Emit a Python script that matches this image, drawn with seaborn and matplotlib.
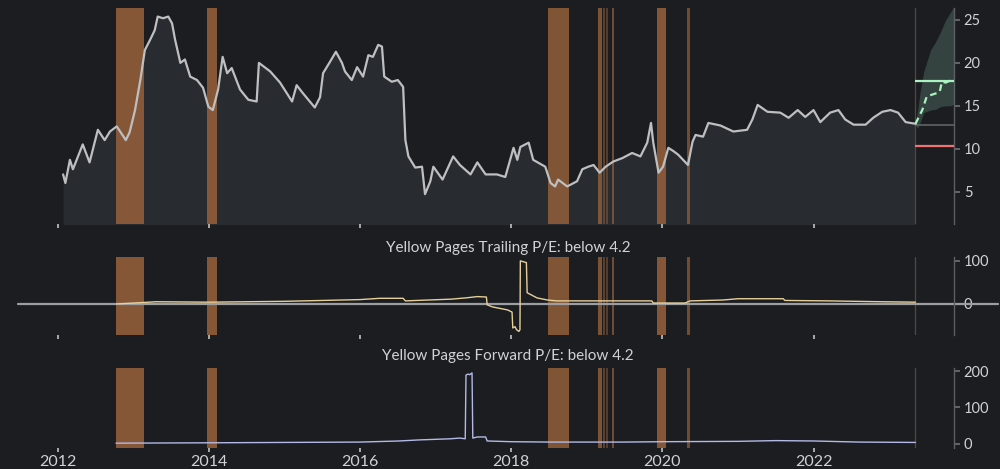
import matplotlib
matplotlib.use("Agg")
import matplotlib.pyplot as plt
import matplotlib.dates as mdates
import pandas as pd
import seaborn as sns

# price history (decimal year, value)
price_t = [2012.07, 2012.10, 2012.16, 2012.20, 2012.33, 2012.42, 2012.53, 2012.62, 2012.69, 2012.78,
           2012.90, 2012.95, 2013.02, 2013.09, 2013.15, 2013.22, 2013.28, 2013.32, 2013.39, 2013.46,
           2013.51, 2013.55, 2013.62, 2013.68, 2013.75, 2013.84, 2013.92, 2013.99, 2014.05, 2014.12,
           2014.18, 2014.24, 2014.30, 2014.41, 2014.52, 2014.63, 2014.66, 2014.81, 2014.94, 2015.10,
           2015.16, 2015.24, 2015.40, 2015.47, 2015.51, 2015.60, 2015.68, 2015.76, 2015.80, 2015.89,
           2015.96, 2016.04, 2016.11, 2016.17, 2016.24, 2016.29, 2016.32, 2016.42, 2016.50, 2016.57,
           2016.60, 2016.64, 2016.73, 2016.82, 2016.86, 2016.93, 2016.97, 2017.09, 2017.23, 2017.32,
           2017.46, 2017.55, 2017.66, 2017.81, 2017.92, 2018.03, 2018.08, 2018.12, 2018.23, 2018.29,
           2018.45, 2018.52, 2018.58, 2018.62, 2018.74, 2018.87, 2018.94, 2019.02, 2019.09, 2019.17,
           2019.25, 2019.35, 2019.47, 2019.60, 2019.71, 2019.80, 2019.85, 2019.88, 2019.95, 2020.01,
           2020.08, 2020.15, 2020.21, 2020.34, 2020.40, 2020.44, 2020.54, 2020.61, 2020.77, 2020.94,
           2021.12, 2021.19, 2021.26, 2021.39, 2021.56, 2021.67, 2021.79, 2021.89, 2022.00, 2022.09,
           2022.22, 2022.33, 2022.42, 2022.53, 2022.69, 2022.79, 2022.91, 2023.02, 2023.12, 2023.22,
           2023.35]
price_v = [7.0, 6.0, 8.7, 7.6, 10.5, 8.4, 12.2, 11.0, 12.0, 12.6,
           11.0, 11.9, 14.5, 18.0, 21.5, 22.7, 23.8, 25.4, 25.2, 25.4,
           24.6, 22.7, 20.0, 20.4, 18.4, 18.0, 17.1, 14.9, 14.5, 16.9,
           20.7, 18.8, 19.4, 16.9, 15.7, 15.5, 20.0, 19.0, 17.7, 15.5,
           17.4, 16.5, 14.8, 16.0, 18.8, 20.1, 21.3, 20.0, 19.0, 18.0,
           19.5, 18.4, 20.9, 20.7, 22.1, 21.9, 18.4, 17.8, 18.0, 17.2,
           11.0, 9.1, 7.8, 7.9, 4.7, 6.2, 7.9, 6.4, 9.1, 8.1,
           7.0, 8.4, 7.0, 7.0, 6.7, 10.1, 8.7, 10.2, 10.7, 8.7,
           7.9, 6.0, 5.6, 6.4, 5.6, 6.2, 7.6, 7.9, 8.1, 7.2,
           7.9, 8.5, 8.9, 9.5, 9.1, 10.7, 13.0, 10.7, 7.2, 7.9,
           10.1, 9.7, 9.3, 8.1, 10.8, 11.6, 11.4, 13.0, 12.7, 12.0,
           12.2, 13.4, 15.1, 14.3, 14.2, 13.6, 14.5, 13.7, 14.5, 13.1,
           14.2, 14.5, 13.4, 12.8, 12.8, 13.6, 14.3, 14.5, 14.2, 13.1,
           12.9]

# forecast cone
fc_t = [2023.35, 2023.38, 2023.41, 2023.46, 2023.55, 2023.62, 2023.68, 2023.75, 2023.82, 2023.86]
fc_upper = [13.0, 14.5, 16.5, 19.0, 21.5, 22.5, 23.6, 25.0, 26.0, 26.6]
fc_lower = [12.7, 12.4, 13.0, 14.2, 14.5, 14.6, 14.9, 15.0, 15.0, 15.2]
med_t = [2023.35, 2023.40, 2023.44, 2023.50, 2023.57, 2023.64, 2023.67, 2023.70, 2023.75, 2023.80, 2023.86]
med_v = [12.9, 13.8, 14.5, 16.1, 16.3, 16.5, 16.6, 17.8, 17.7, 17.9, 17.9]
target_high = 17.9
target_low = 10.35
last_price = 12.8

# trailing P/E
tpe_t = [2012.78, 2013.0, 2013.3, 2014.0, 2014.5, 2015.0, 2015.5, 2016.0, 2016.26, 2016.57,
         2016.60, 2016.9, 2017.2, 2017.4, 2017.55, 2017.67, 2017.68, 2017.75, 2017.95, 2018.01,
         2018.02, 2018.05, 2018.07, 2018.10, 2018.115, 2018.12, 2018.16, 2018.20, 2018.21, 2018.34,
         2018.48, 2018.6, 2019.0, 2019.5, 2019.86, 2019.88, 2020.3, 2020.37, 2020.8, 2021.0,
         2021.6, 2021.62, 2022.2, 2022.9, 2023.35]
tpe_v = [0, 2, 5, 4, 5, 6, 8, 10, 13, 13,
         7, 9, 11, 14, 17, 16, -2, -7, -14, -19,
         -56, -53, -60, -64, -60, 100, 98, 96, 26, 14,
         9, 7, 7, 7, 7, 2, 2, 7, 9, 12,
         12, 8, 7, 5, 4]

# forward P/E
fpe_t = [2012.77, 2014.0, 2015.0, 2016.0, 2016.52, 2016.79, 2017.19, 2017.32, 2017.39, 2017.40,
         2017.43, 2017.45, 2017.48, 2017.49, 2017.55, 2017.66, 2017.68, 2018.0, 2018.5, 2019.5,
         2020.0, 2021.0, 2021.5, 2022.0, 2022.6, 2023.35]
fpe_v = [2, 3, 4, 5, 8, 11, 14, 16, 14, 189,
         192, 190, 195, 16, 19, 19, 8, 6, 5, 5,
         6, 7, 9, 8, 5, 4]

# signal bands (start, end)
band_start = [2012.77, 2013.97, 2018.49, 2019.15, 2019.21, 2019.26, 2019.34, 2019.93, 2020.33]
band_end = [2013.14, 2014.11, 2018.77, 2019.20, 2019.24, 2019.28, 2019.36, 2020.05, 2020.37]
band_alpha = [0.92, 0.92, 0.88, 0.85, 0.55, 0.5, 0.75, 0.92, 0.75]

title_trailing = "Yellow Pages Trailing P/E: below 4.2"
title_forward = "Yellow Pages Forward P/E: below 4.2"


def to_date(values):
    out = []
    for y in values:
        yr = int(y)
        out.append(pd.Timestamp(year=yr, month=1, day=1) + pd.Timedelta(days=(y - yr) * 365.25))
    return out


BG = "#1b1d21"
TXT = "#d2d2d2"
sns.set_theme(style="dark")
plt.rcParams["font.family"] = ["Lato", "DejaVu Sans"]

fig = plt.figure(figsize=(10, 4.69), dpi=100, facecolor=BG)
ax1 = fig.add_axes([0.008, 0.522, 0.946, 0.461])
ax2 = fig.add_axes([0.008, 0.286, 0.946, 0.166])
ax3 = fig.add_axes([0.008, 0.045, 0.946, 0.170])

x0, x1 = to_date([2011.34, 2023.86])
last_day = to_date([2023.35])[0]

for ax in (ax1, ax2, ax3):
    ax.set_facecolor(BG)
    for s in ("top", "left", "bottom"):
        ax.spines[s].set_visible(False)
    ax.spines["right"].set_visible(True)
    ax.spines["right"].set_color("#5c5f64")
    ax.spines["right"].set_linewidth(1)
    ax.yaxis.tick_right()
    ax.tick_params(axis="y", which="both", right=True, left=False, length=4, color="#6a6d72",
                   labelcolor=TXT, labelsize=10.5, pad=3)
    ax.tick_params(axis="x", bottom=True, length=3, color="#bbbbbb", labelcolor=TXT,
                   labelsize=11.5, pad=2)
    ax.grid(False)
    ax.set_xlim(x0, x1)
    ax.xaxis.set_major_locator(mdates.YearLocator(2))
    ax.xaxis.set_major_formatter(mdates.DateFormatter("%Y"))
    for s, e, a in zip(band_start, band_end, band_alpha):
        sd, ed = to_date([s, e])
        ax.axvspan(sd, ed, color="#8f5d3a", alpha=a, lw=0, zorder=1)
    ax.axvline(last_day, color="#5a4636", lw=0.9, zorder=2)

# price panel
pdates = to_date(price_t)
ax1.fill_between(pdates, 0, price_v, color="#282b30", lw=0, zorder=0.5)
sns.lineplot(x=pdates, y=price_v, ax=ax1, color="#bdbfc1", lw=1.6, zorder=3)
fdates = to_date(fc_t)
ax1.fill_between(fdates, fc_lower, fc_upper, color="#4a6359", alpha=0.55, lw=0, zorder=2)
sns.lineplot(x=to_date(med_t), y=med_v, ax=ax1, color="#a9f2c2", lw=1.6, ls=(0, (3, 2)), zorder=4)
ax1.hlines(target_high, last_day, x1, color="#a9f2c2", lw=1.6, zorder=4)
ax1.hlines(target_low, last_day, x1, color="#f07272", lw=1.6, zorder=4)
ax1.hlines(last_price, last_day, x1, color="#5f6266", lw=1.2, zorder=2)
ax1.set_ylim(1.2, 26.4)
ax1.set_yticks([5, 10, 15, 20, 25])
ax1.tick_params(axis="x", labelbottom=False)

# trailing P/E panel
ax2.axhline(0, xmin=0.0106, xmax=1.047, color="#9c9ea1", lw=1.6, clip_on=False, zorder=2)
sns.lineplot(x=to_date(tpe_t), y=tpe_v, ax=ax2, color="#e6cf98", lw=1.0, zorder=3)
ax2.set_ylim(-72, 109)
ax2.set_yticks([0, 100])
ax2.tick_params(axis="x", labelbottom=False)

# forward P/E panel
sns.lineplot(x=to_date(fpe_t), y=fpe_v, ax=ax3, color="#b4b9e6", lw=1.0, zorder=3)
ax3.set_ylim(-11, 208)
ax3.set_yticks([0, 100, 200])

for ax in (ax1, ax2, ax3):
    ax.set_xlabel("")
    ax.set_ylabel("")

fig.text(0.508, 0.471, title_trailing, ha="center", va="center", color=TXT, fontsize=11)
fig.text(0.508, 0.241, title_forward, ha="center", va="center", color=TXT, fontsize=11)

fig.savefig("out.png", dpi=100, facecolor=BG)
